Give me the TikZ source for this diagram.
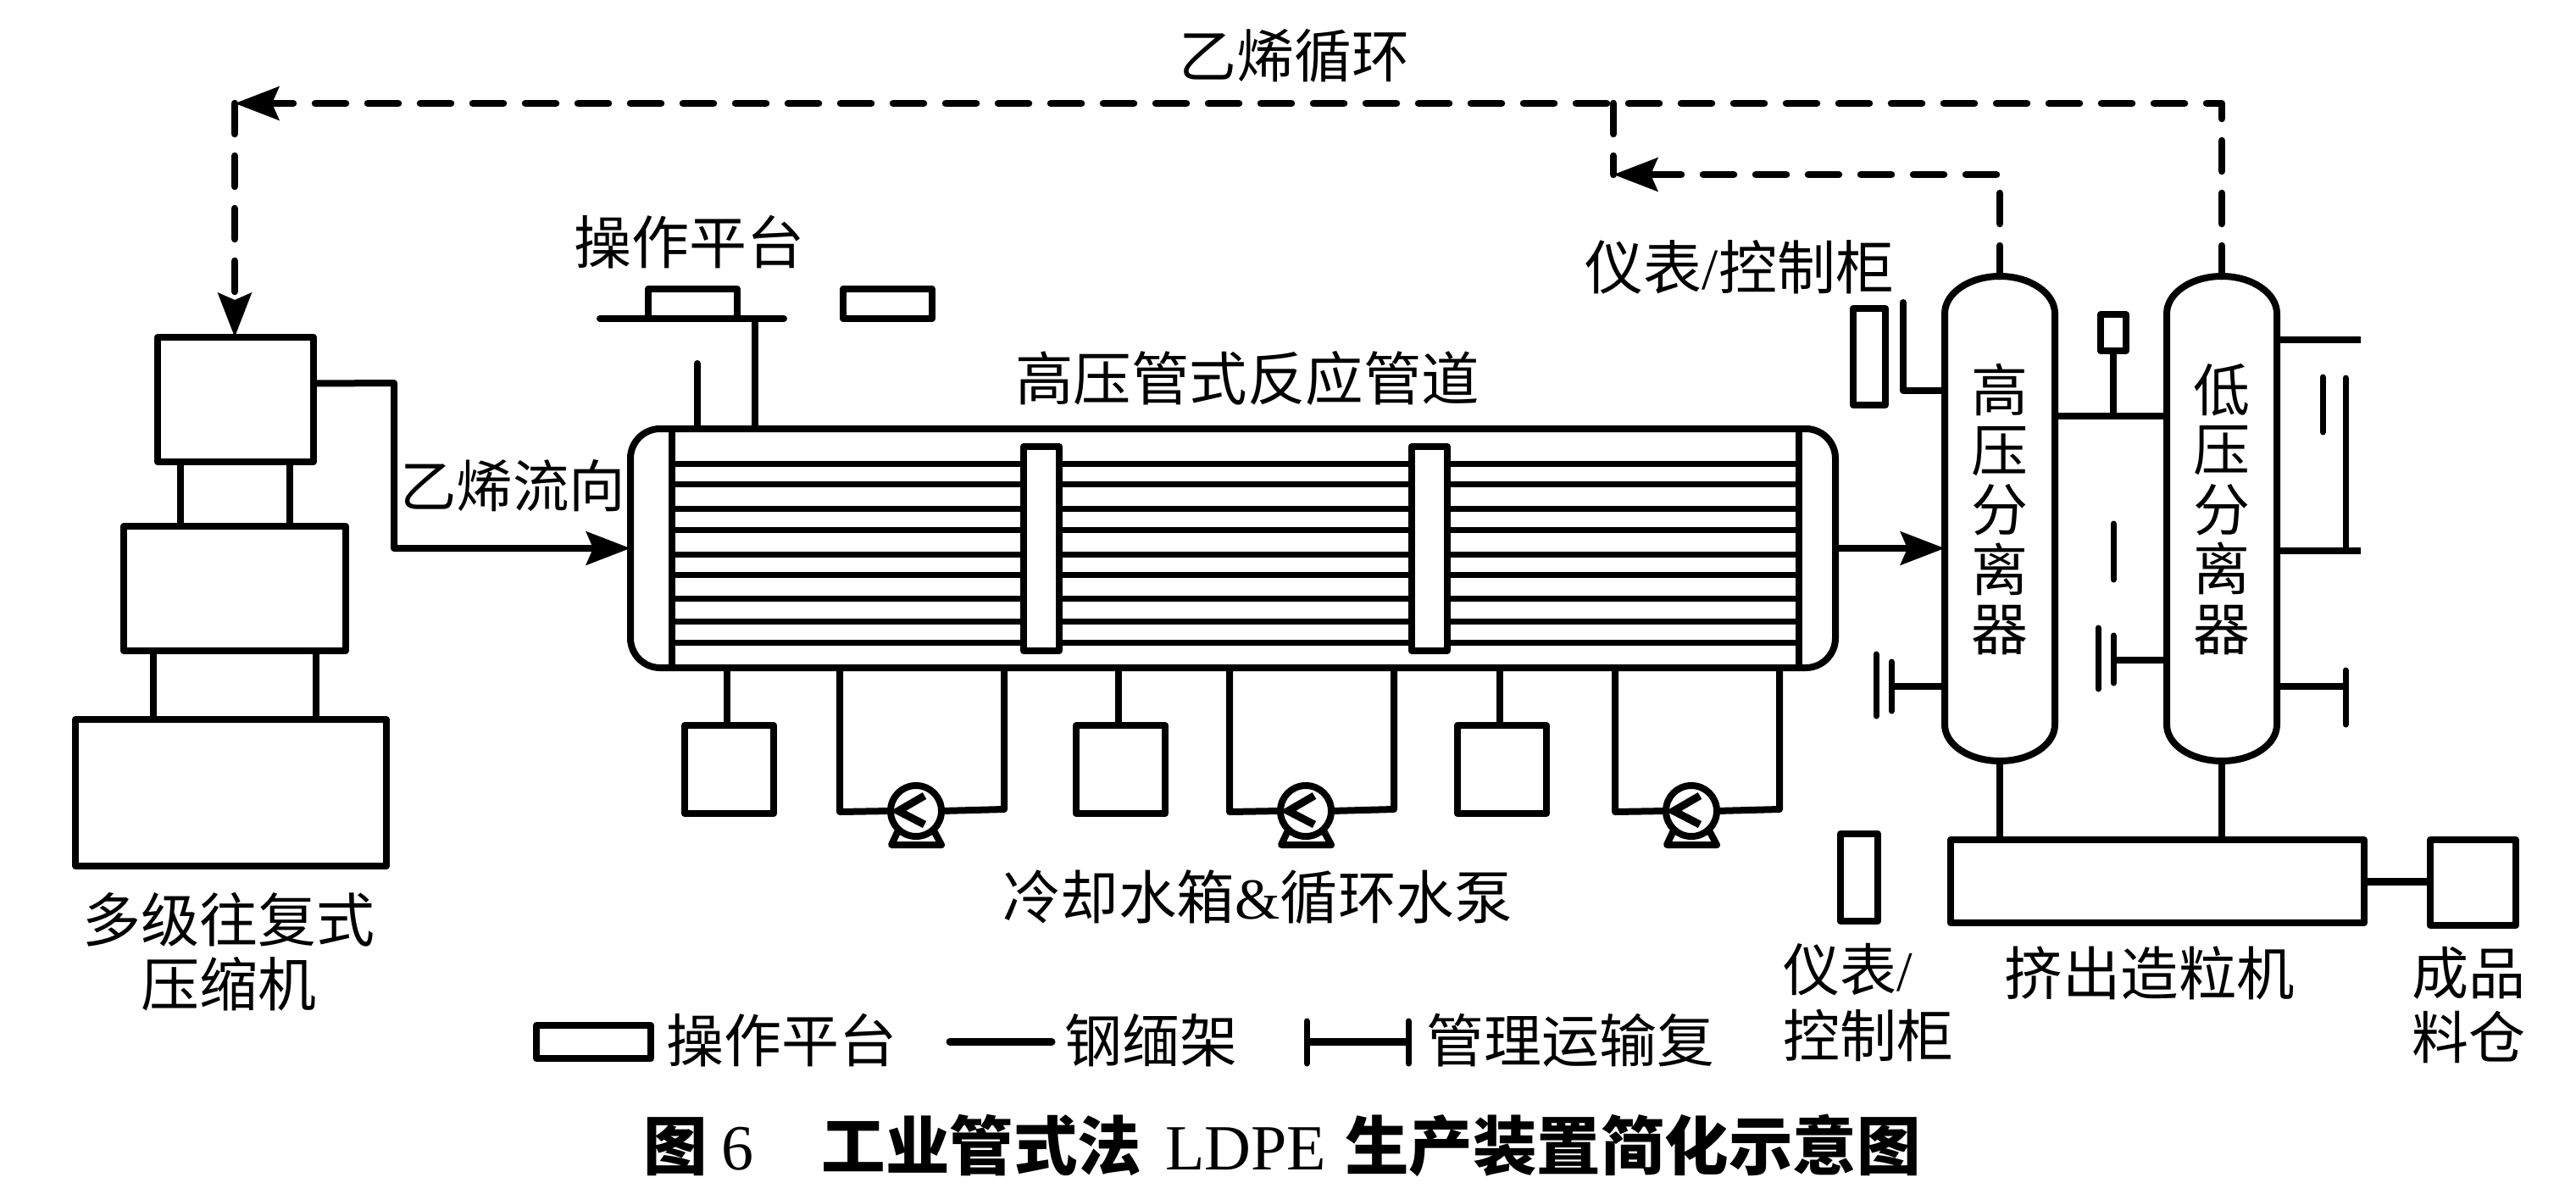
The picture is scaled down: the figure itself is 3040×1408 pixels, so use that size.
\documentclass[tikz,border=0pt]{standalone}
\usepackage{fontspec}
\setmainfont{Noto Sans CJK SC}
\newfontfamily\ser{Liberation Serif}
\usetikzlibrary{arrows.meta,calc}
\newcommand{\fsz}[1]{\fontsize{#1}{#1}\selectfont}
\newcommand{\rbox}[5]{% name x1 y1 x2 y2
  \pgfmathsetmacro{\bw}{(#4)-(#2)}\pgfmathsetmacro{\bh}{(#5)-(#3)}
  \node[unit, minimum width=\bw pt, minimum height=\bh pt] (#1) at ({((#2)+(#4))/2},{((#3)+(#5))/2}) {};}
\newcommand{\vessel}[1]{%
  \draw[pipe] (#1-65,370) .. controls (#1-65,346) and (#1-36,326) .. (#1,326)
    .. controls (#1+36,326) and (#1+65,346) .. (#1+65,370) -- (#1+65,855)
    .. controls (#1+65,879) and (#1+36,898) .. (#1,898)
    .. controls (#1-36,898) and (#1-65,879) .. (#1-65,855) -- cycle;}
\tikzset{
  pipe/.style={line width=8pt,line join=round},
  thinpipe/.style={line width=7pt,line join=round},
  unit/.style={draw,fill=white,line width=8pt,inner sep=0pt,outer sep=0pt,line join=round},
  recycle/.style={line width=8.5pt,line cap=round,line join=round,dash pattern=on 36pt off 26pt},
  flow/.style={pipe,-{Stealth[length=52pt,width=39pt,inset=8pt]}},
  rflow/.style={recycle,-{Stealth[length=52pt,width=39pt,inset=8pt]}},
  lab/.style={inner sep=0pt,outer sep=0pt},
  pumpc/.style={circle,draw,fill=white,line width=8pt,inner sep=0pt,outer sep=0pt,minimum size=60pt},
  shell/.style={inner sep=0pt,outer sep=0pt,minimum width=130pt,minimum height=572pt},
  vtext/.style={lab,align=center,font=\fontsize{67}{70.5}\selectfont},
}
\begin{document}
\begin{tikzpicture}[x=1pt,y=-1pt]
\useasboundingbox (0,0) rectangle (3040,1408);

% compressor
\rbox{compa}{186}{398}{370}{545}
\rbox{compb}{146}{621}{408}{768}
\rbox{compc}{89}{849}{456}{1022}
\draw[pipe] (213,0 |- compa.south) -- (213,0 |- compb.north);
\draw[pipe] (342,0 |- compa.south) -- (342,0 |- compb.north);
\draw[pipe] (181,0 |- compb.south) -- (181,0 |- compc.north);
\draw[pipe] (373,0 |- compb.south) -- (373,0 |- compc.north);
\node[lab,align=center,font=\fsz{69}] (lcomp) at (270,1123) {多级往复式\\[7pt]压缩机};

% reactor
\node[draw,line width=8pt,inner sep=0pt,outer sep=0pt,rounded corners=35pt,minimum width=1422pt,minimum height=282pt] (reactor) at (1455,647) {};
\coordinate (headl) at (793,647);
\coordinate (headr) at (2123,647);
\draw[pipe] (headl |- reactor.north) -- (headl |- reactor.south);
\draw[pipe] (headr |- reactor.north) -- (headr |- reactor.south);
\foreach \ty in {547,571,600,625,654,678,706,733,758}
  \draw[thinpipe] (headl |- 0,\ty) -- (headr |- 0,\ty);
\rbox{bafa}{1208}{527}{1250}{768}
\rbox{bafb}{1666}{527}{1708}{768}
\node[lab,font=\fsz{68.5}] (lreactor) at (1472,446) {高压管式反应管道};

% inlet
\draw[flow] ([yshift=19pt]compa.east) -- (465,452) |- (reactor.west);
\node[lab,font=\fsz{66.5}] (linlet) at (605,573) {乙烯流向};

% platforms
\rbox{plata}{765}{341}{870}{376}
\rbox{platb}{995}{341}{1100}{376}
\coordinate (bara) at (708,376);
\coordinate (barb) at (925,376);
\draw[pipe,line cap=round] (bara) -- (barb);
\draw[pipe] (891,376) -- (891,0 |- reactor.north);
\draw[pipe,line cap=round] (823,429) -- (823,0 |- reactor.north);
\node[lab,font=\fsz{68}] (lplat) at (813,286) {操作平台};

% water tanks and pumps
\foreach \n/\bx/\px in {a/0/0,b/462/460,c/912/915}{
  \rbox{tank\n}{808+\bx}{856}{913+\bx}{960}
  \draw[pipe] (858+\bx,0 |- reactor.south) -- (858+\bx,0 |- tank\n.north);
  \node[pumpc] (pump\n) at (1081+\px,957) {};
  \draw[pipe] (991+\px,0 |- reactor.south) -- (991+\px,958) -- (pump\n.west);
  \draw[pipe] (1185+\px,0 |- reactor.south) -- (1185+\px,955) -- (pump\n.east);
  \draw[line width=9pt,line join=miter] (1091+\px,939) -- (1060+\px,957) -- (1091+\px,973);
  \draw[pipe,line cap=round] (1059+\px,982) -- (1052+\px,997) -- (1111+\px,997) -- (1103+\px,982);
}
\node[lab,font=\fsz{68.5}] (ltank) at (1484,1059) {冷却水箱{\ser\&}循环水泵};

% separators
\vessel{2360}
\vessel{2622}
\node[shell] (hp) at (2360,612) {};
\node[shell] (lp) at (2622,612) {};
\node[vtext] (lhp) at (2360,601) {高\\压\\分\\离\\器};
\node[vtext] (llp) at (2622,601) {低\\压\\分\\离\\器};
\draw[flow] (reactor.east) -- (hp.west |- reactor.east);

% recycle
\coordinate (cornb) at (2622,122);
\coordinate (corna) at (277,122);
\coordinate (cornc) at (2360,206);
\coordinate (cornd) at (1904,206);
\draw[rflow] (lp.north) -- (cornb) -- (corna);
\draw[rflow] (corna) -- (compa.north -| corna);
\draw[rflow] (hp.north) -- (cornc) -- (cornd);
\draw[recycle] (1904,122) -- (cornd);
\node[lab,font=\fsz{68}] (lrec) at (1527,66) {乙烯循环};

% instruments
\rbox{cabu}{2187}{364}{2225}{478}
\draw[pipe,line cap=round] (2246,357) -- (2246,461) -- (hp.west |- 0,461);
\node[lab,font=\fsz{69}] (lcabu) at (2053,315) {仪表{\ser/}控制柜};
\draw[pipe] (hp.east |- 0,491) -- (lp.west |- 0,491);
\rbox{minib}{2479}{371}{2509}{414}
\draw[pipe] (minib.south) -- (2494,491);
\draw[thinpipe,line cap=round] (2494,618) -- (2494,684);
\draw[pipe] (hp.west |- 0,810) -- (2232,810);
\draw[thinpipe,line cap=round] (2232,781) -- (2232,839);
\draw[thinpipe,line cap=round] (2214,772) -- (2214,845);
\draw[pipe] (lp.west |- 0,779) -- (2494,779);
\draw[thinpipe,line cap=round] (2494,750) -- (2494,806);
\draw[thinpipe,line cap=round] (2476,741) -- (2476,813);
\draw[pipe] (lp.east |- 0,401) -- (2786,401);
\draw[pipe] (lp.east |- 0,650) -- (2786,650);
\draw[thinpipe,line cap=round] (2768,446) -- (2768,650);
\draw[thinpipe,line cap=round] (2741,445) -- (2741,510);
\draw[pipe] (lp.east |- 0,810) -- (2768,810);
\draw[thinpipe,line cap=round] (2768,791) -- (2768,855);

% extruder etc.
\rbox{extr}{2302}{991}{2790}{1089}
\rbox{bin}{2868}{991}{2969}{1092}
\rbox{cabl}{2172}{984}{2216}{1087}
\draw[pipe] (hp.south) -- (hp.south |- extr.north);
\draw[pipe] (lp.south) -- (lp.south |- extr.north);
\draw[line width=9pt] (extr.east |- 0,1040) -- (bin.west |- 0,1040);
\node[lab,align=left,anchor=west,font=\fsz{67}] (lcabl) at (2104,1183) {仪表{\ser/}\\[11pt]控制柜};
\node[lab,font=\fsz{68.5}] (lextr) at (2537,1148) {挤出造粒机};
\node[lab,align=center,font=\fsz{67}] (lbin) at (2913,1186) {成品\\[9pt]料仓};

% legend
\rbox{legr}{633}{1210}{768}{1249}
\node[lab,font=\fsz{68}] (lega) at (922,1228) {操作平台};
\coordinate (lla) at (1121,1229);
\coordinate (llb) at (1241,1229);
\draw[line width=9pt,line cap=round] (lla) -- (llb);
\node[lab,font=\fsz{68}] (legb) at (1358,1228) {钢缅架};
\coordinate (lta) at (1542,1229);
\coordinate (ltb) at (1662,1229);
\draw[line width=9pt] (lta) -- (ltb);
\draw[thinpipe,line cap=round] (1542,1205) -- (1542,1255);
\draw[thinpipe,line cap=round] (1662,1205) -- (1662,1255);
\node[lab,font=\fsz{68}] (legc) at (1853,1228) {管理运输复};

% caption
\node[lab,font=\fsz{75.5}\bfseries] (cap) at (1513,1352) {图\hspace{17pt}{\ser\mdseries\fontsize{76}{76}\selectfont 6}\hspace{80pt}工业管式法\hspace{28pt}{\ser\mdseries\fontsize{76}{76}\selectfont LDPE}\hspace{22pt}生产装置简化示意图};
\end{tikzpicture}
\end{document}
